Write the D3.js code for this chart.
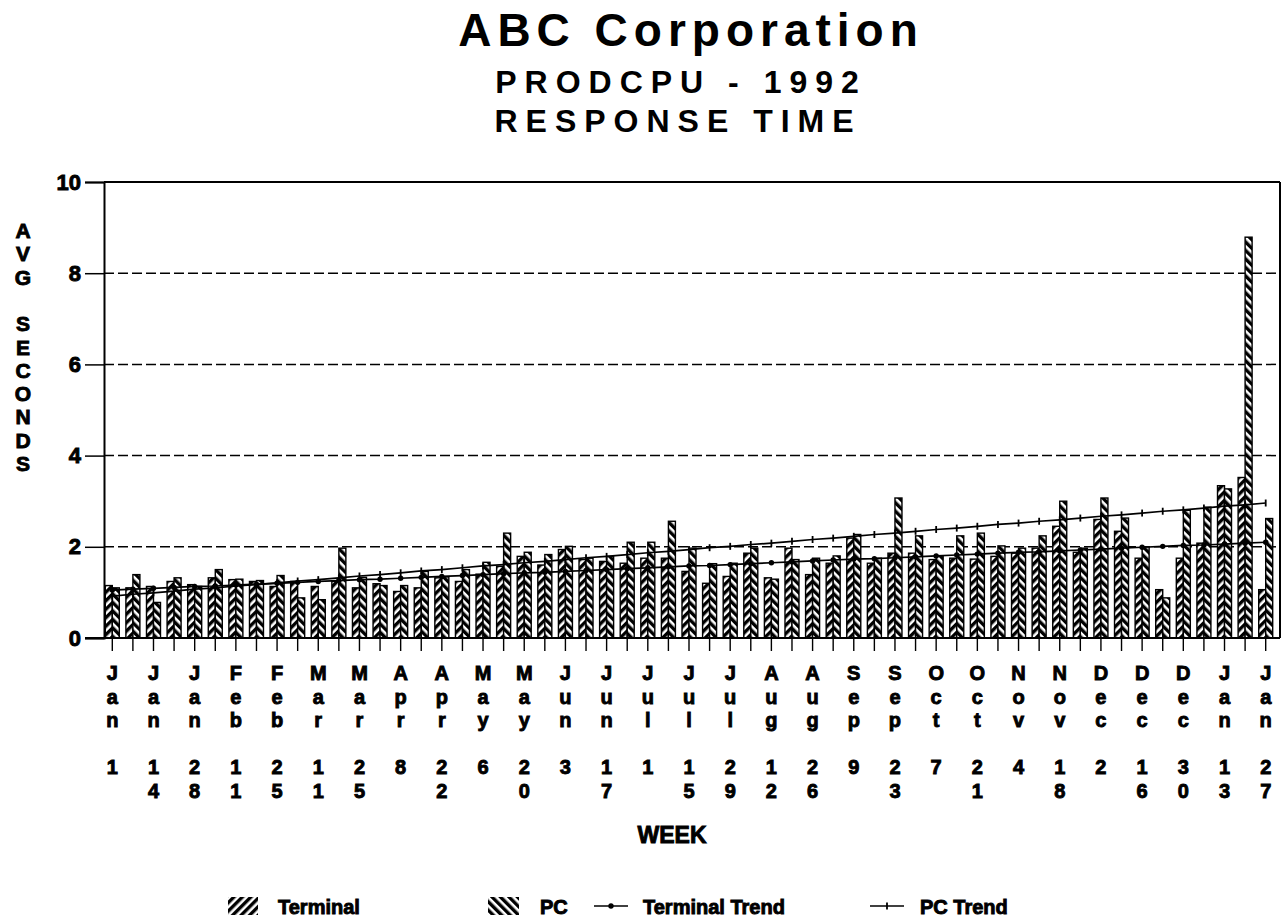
<!DOCTYPE html>
<html>
<head>
<meta charset="utf-8">
<script src="https://cdn.jsdelivr.net/npm/d3@7/dist/d3.min.js"></script>
<style>
  body { margin: 0; background: #fff; }
  text { font-family: "Liberation Sans", Arial, Helvetica, sans-serif; font-weight: bold; fill: #000; }
  .heavy { stroke: #000; stroke-width: 0.9px; paint-order: stroke; }
</style>
</head>
<body>
<svg id="chart" width="1285" height="921"></svg>
<script>
// Weekly samples, Jan 1 1992 through Jan 27 1993
const weeks = [
  "Jan 1","Jan 7","Jan 14","Jan 21","Jan 28","Feb 4","Feb 11","Feb 18","Feb 25","Mar 4",
  "Mar 11","Mar 18","Mar 25","Apr 1","Apr 8","Apr 15","Apr 22","Apr 29","May 6","May 13",
  "May 20","May 27","Jun 3","Jun 10","Jun 17","Jun 24","Jul 1","Jul 8","Jul 15","Jul 22",
  "Jul 29","Aug 5","Aug 12","Aug 19","Aug 26","Sep 2","Sep 9","Sep 16","Sep 23","Sep 30",
  "Oct 7","Oct 14","Oct 21","Oct 28","Nov 4","Nov 11","Nov 18","Nov 25","Dec 2","Dec 9",
  "Dec 16","Dec 23","Dec 30","Jan 6","Jan 13","Jan 20","Jan 27"
];

// Average response time in seconds
const terminal = [
  1.15,1.10,1.13,1.24,1.17,1.32,1.28,1.24,1.13,1.24,
  1.13,1.24,1.10,1.19,1.02,1.10,1.32,1.24,1.40,1.57,
  1.79,1.60,1.94,1.72,1.68,1.64,1.75,1.75,1.46,1.20,
  1.35,1.86,1.32,1.97,1.39,1.64,2.19,1.64,1.86,1.86,
  1.72,1.75,1.73,1.79,1.86,1.97,2.45,1.88,2.60,2.34,
  1.75,1.06,1.75,2.08,3.34,3.52,1.06
];
const pc = [
  1.10,1.39,0.78,1.32,1.13,1.50,1.29,1.26,1.37,0.88,
  0.84,1.97,1.33,1.15,1.15,1.46,1.34,1.50,1.66,2.30,
  1.88,1.83,2.01,1.75,1.79,2.10,2.10,2.56,1.97,1.63,
  1.64,1.97,1.29,1.72,1.75,1.80,2.27,1.75,3.07,2.24,
  1.80,2.24,2.30,2.02,1.97,2.24,3.00,1.97,3.07,2.63,
  2.00,0.88,2.80,2.87,3.27,8.79,2.62
];
const terminalTrend = [
  1.05,1.07,1.09,1.11,1.13,1.14,1.16,1.18,1.20,1.22,
  1.24,1.26,1.28,1.29,1.31,1.33,1.35,1.37,1.39,1.41,
  1.43,1.44,1.46,1.48,1.50,1.52,1.54,1.56,1.58,1.59,
  1.61,1.63,1.65,1.67,1.69,1.71,1.73,1.74,1.76,1.78,
  1.80,1.82,1.84,1.86,1.88,1.89,1.91,1.93,1.95,1.97,
  1.99,2.01,2.03,2.04,2.06,2.08,2.10
];
const pcTrend = [
  0.92,0.96,0.99,1.03,1.07,1.10,1.14,1.17,1.21,1.25,
  1.28,1.32,1.36,1.39,1.43,1.47,1.50,1.54,1.58,1.61,
  1.65,1.68,1.72,1.76,1.79,1.83,1.87,1.90,1.94,1.98,
  2.01,2.05,2.08,2.12,2.16,2.19,2.23,2.27,2.30,2.34,
  2.38,2.41,2.45,2.49,2.52,2.56,2.59,2.63,2.67,2.70,
  2.74,2.78,2.81,2.85,2.89,2.92,2.96
];
const yTicks = [0, 2, 4, 6, 8, 10];
const gridValues = [2, 4, 6, 8];

const svg = d3.select("#chart");

// hatch fills
const defs = svg.append("defs");
function hatch(id, angle) {
  const p = defs.append("pattern")
    .attr("id", id).attr("width", 6).attr("height", 6)
    .attr("patternUnits", "userSpaceOnUse")
    .attr("patternTransform", `rotate(${angle})`);
  p.append("rect").attr("width", 6).attr("height", 6).attr("fill", "#fff");
  p.append("rect").attr("width", 3.4).attr("height", 6).attr("fill", "#000");
}
hatch("hatchTerminal", 45);
hatch("hatchPC", -45);

const plot = { left: 104, right: 1280, top: 182, bottom: 638 };

const x = d3.scaleBand().domain(weeks).range([102, 1276]);
const y = d3.scaleLinear().domain([0, 10]).range([plot.bottom, plot.top]);
const cx = w => x(w) + x.bandwidth() / 2;
const barW = 7;

// titles (letter-spacing leaves a trailing gap, so shift by half of it)
function title(txt, cxT, yy, size, ls) {
  svg.append("text").attr("x", cxT + ls / 2).attr("y", yy).attr("text-anchor", "middle")
    .style("font-size", size + "px").style("letter-spacing", ls + "px").text(txt);
}
title("ABC Corporation", 688, 46, 46, 6);
title("PRODCPU - 1992", 677, 93, 32, 8);
title("RESPONSE TIME", 674, 132, 32, 8);

// dashed gridlines
svg.append("g").selectAll("line").data(gridValues).join("line")
  .attr("x1", plot.left).attr("x2", plot.right)
  .attr("y1", d => y(d)).attr("y2", d => y(d))
  .attr("stroke", "#000").attr("stroke-width", 1.5)
  .attr("stroke-dasharray", "10,4");

// bars
const bars = svg.append("g");
bars.selectAll("rect.term").data(weeks).join("rect")
  .attr("class", "term")
  .attr("x", w => cx(w) - barW).attr("width", barW)
  .attr("y", (w, i) => y(terminal[i])).attr("height", (w, i) => y(0) - y(terminal[i]))
  .attr("fill", "url(#hatchTerminal)").attr("stroke", "#000").attr("stroke-width", 1.4);
bars.selectAll("rect.pc").data(weeks).join("rect")
  .attr("class", "pc")
  .attr("x", w => cx(w)).attr("width", barW)
  .attr("y", (w, i) => y(pc[i])).attr("height", (w, i) => y(0) - y(pc[i]))
  .attr("fill", "url(#hatchPC)").attr("stroke", "#000").attr("stroke-width", 1.4);

// trend lines
const line = d3.line().x(d => cx(d[0])).y(d => y(d[1]));
const tData = weeks.map((w, i) => [w, terminalTrend[i]]);
const pData = weeks.map((w, i) => [w, pcTrend[i]]);
svg.append("path").datum(tData).attr("d", line)
  .attr("fill", "none").attr("stroke", "#000").attr("stroke-width", 1.7);
svg.append("path").datum(pData).attr("d", line)
  .attr("fill", "none").attr("stroke", "#000").attr("stroke-width", 1.7);
svg.append("g").selectAll("circle").data(tData).join("circle")
  .attr("cx", d => cx(d[0])).attr("cy", d => y(d[1])).attr("r", 2.7).attr("fill", "#000");
svg.append("g").selectAll("line").data(pData).join("line")
  .attr("x1", d => cx(d[0])).attr("x2", d => cx(d[0]))
  .attr("y1", d => y(d[1]) - 3.5).attr("y2", d => y(d[1]) + 3.5)
  .attr("stroke", "#000").attr("stroke-width", 1.8);

// frame
svg.append("line").attr("x1", plot.left).attr("x2", plot.right)
  .attr("y1", plot.top).attr("y2", plot.top).attr("stroke", "#000").attr("stroke-width", 2);
svg.append("line").attr("x1", plot.right).attr("x2", plot.right)
  .attr("y1", plot.top).attr("y2", plot.bottom).attr("stroke", "#000").attr("stroke-width", 2);

// y axis
const yAxis = svg.append("g").attr("transform", `translate(${plot.left},0)`)
  .call(d3.axisLeft(y).tickValues(yTicks).tickSize(19).tickPadding(4).tickFormat(d3.format("d")));
yAxis.select(".domain").attr("stroke-width", 2);
yAxis.selectAll(".tick line").attr("stroke-width", 1.5);
yAxis.selectAll(".tick text").attr("class", "heavy").style("font-size", "22px")
  .style("font-family", "'Liberation Sans', Arial, sans-serif").style("font-weight", "bold")
  .attr("fill", "#000");

// x axis
const xAxis = svg.append("g").attr("transform", `translate(0,${plot.bottom})`)
  .call(d3.axisBottom(x).tickSize(13).tickFormat(""));
xAxis.select(".domain").attr("d", `M${plot.left - 19},0H${plot.right}`).attr("stroke-width", 2);
xAxis.selectAll(".tick line").attr("stroke-width", 1.4);

// stacked week labels on every second week
const labelWeeks = weeks.filter((w, i) => i % 2 === 0);
const step = 23.5;
const lab = svg.append("g").selectAll("g").data(labelWeeks).join("g")
  .attr("transform", w => `translate(${cx(w)},0)`);
lab.each(function (w) {
  const [mon, day] = w.split(" ");
  const g = d3.select(this);
  const chars = mon.split("").concat([""], day.split(""));
  chars.forEach((c, k) => {
    if (c) g.append("text").attr("class", "heavy").attr("x", 0).attr("y", 680 + k * step)
      .attr("text-anchor", "middle").style("font-size", "20px").text(c);
  });
});

// axis titles
const yTitle = ["A","V","G","","S","E","C","O","N","D","S"];
svg.append("g").selectAll("text").data(yTitle).join("text")
  .attr("class", "heavy")
  .attr("x", 23).attr("y", (d, i) => 238 + i * 23.3)
  .attr("text-anchor", "middle").style("font-size", "21px").text(d => d);
svg.append("text").attr("class", "heavy").attr("x", 672).attr("y", 843).attr("text-anchor", "middle")
  .style("font-size", "23px").text("WEEK");

// legend
const leg = svg.append("g");
const legY = 906;
leg.append("rect").attr("x", 228).attr("y", legY - 9).attr("width", 30).attr("height", 18)
  .attr("fill", "url(#hatchTerminal)");
leg.append("text").attr("class", "heavy").attr("x", 278).attr("y", legY + 8)
  .style("font-size", "20px").text("Terminal");
leg.append("rect").attr("x", 488).attr("y", legY - 9).attr("width", 31).attr("height", 18)
  .attr("fill", "url(#hatchPC)");
leg.append("text").attr("class", "heavy").attr("x", 540).attr("y", legY + 8)
  .style("font-size", "20px").text("PC");
leg.append("line").attr("x1", 594).attr("x2", 628).attr("y1", legY).attr("y2", legY)
  .attr("stroke", "#000").attr("stroke-width", 1.7);
leg.append("circle").attr("cx", 611).attr("cy", legY).attr("r", 2.7);
leg.append("text").attr("class", "heavy").attr("x", 643).attr("y", legY + 8)
  .style("font-size", "20px").text("Terminal Trend");
leg.append("line").attr("x1", 870).attr("x2", 904).attr("y1", legY).attr("y2", legY)
  .attr("stroke", "#000").attr("stroke-width", 1.7);
leg.append("line").attr("x1", 887).attr("x2", 887).attr("y1", legY - 3.5).attr("y2", legY + 3.5)
  .attr("stroke", "#000").attr("stroke-width", 1.8);
leg.append("text").attr("class", "heavy").attr("x", 920).attr("y", legY + 8)
  .style("font-size", "20px").text("PC Trend");
</script>
</body>
</html>
